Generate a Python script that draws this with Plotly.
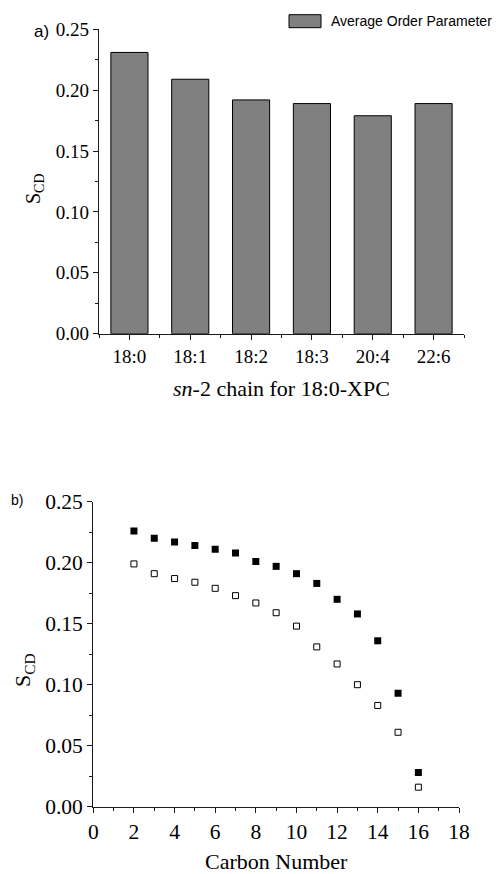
import plotly.graph_objects as go

# Panel a: average order parameter per sn-2 chain
chains = ["18:0", "18:1", "18:2", "18:3", "20:4", "22:6"]
avg_order = [0.231, 0.209, 0.192, 0.189, 0.179, 0.189]

# Panel b: order parameter profile along the chain
carbon = [2, 3, 4, 5, 6, 7, 8, 9, 10, 11, 12, 13, 14, 15, 16]
scd_filled = [0.226, 0.220, 0.217, 0.214, 0.211, 0.208, 0.201, 0.197,
              0.191, 0.183, 0.170, 0.158, 0.136, 0.093, 0.028]
scd_open = [0.199, 0.191, 0.187, 0.184, 0.179, 0.173, 0.167, 0.159,
            0.148, 0.131, 0.117, 0.100, 0.083, 0.061, 0.016]

W, H = 496, 874
SERIF = "Liberation Serif"
SANS = "Liberation Sans"
AX = "#1a1a1a"


def px(x0, x1):
    return [x0 / W, x1 / W]


def py(top, bottom):
    return [1 - bottom / H, 1 - top / H]


fig = go.Figure()

fig.add_trace(go.Bar(
    x=list(range(len(chains))), y=avg_order, width=0.61,
    marker=dict(color="#808080", line=dict(color="#000000", width=1)),
    xaxis="x", yaxis="y", showlegend=False,
))

fig.add_trace(go.Scatter(
    x=carbon, y=scd_filled, mode="markers",
    marker=dict(symbol="square", size=7, color="#000000"),
    xaxis="x2", yaxis="y2", showlegend=False,
))
fig.add_trace(go.Scatter(
    x=carbon, y=scd_open, mode="markers",
    marker=dict(symbol="square-open", size=6, color="#000000",
                line=dict(width=1)),
    xaxis="x2", yaxis="y2", showlegend=False,
))

axis_common = dict(
    showline=True, linecolor=AX, linewidth=1.3, mirror=False,
    showgrid=False, zeroline=False, automargin=False,
    ticks="outside", ticklen=5, tickwidth=1.2, tickcolor=AX,
)

fig.update_layout(
    width=W, height=H, autosize=False,
    margin=dict(l=0, r=0, t=0, b=0, pad=0, autoexpand=False),
    paper_bgcolor="white", plot_bgcolor="white",
    xaxis=dict(
        **axis_common, domain=px(99, 464), anchor="y",
        range=[-0.5, 5.5], tickmode="array",
        tickvals=list(range(len(chains))), ticktext=chains,
        tickfont=dict(family=SERIF, size=19, color="#000"),
        minor=dict(ticks="outside", ticklen=3, tickcolor=AX, tickwidth=1.2,
                   tick0=0.5, dtick=1),
    ),
    yaxis=dict(
        **axis_common, domain=py(29.3, 333.7), anchor="x",
        range=[0, 0.25], dtick=0.05, tick0=0, tickformat=".2f",
        tickfont=dict(family=SERIF, size=19, color="#000"),
        minor=dict(ticks="outside", ticklen=3, tickcolor=AX, tickwidth=1.2,
                   dtick=0.025),
    ),
    xaxis2=dict(
        **axis_common, domain=px(93.3, 459), anchor="y2",
        range=[0, 18], dtick=2, tick0=0,
        tickfont=dict(family=SERIF, size=21.5, color="#000"),
        minor=dict(ticks="outside", ticklen=3, tickcolor=AX, tickwidth=1.2,
                   dtick=1),
    ),
    yaxis2=dict(
        **axis_common, domain=py(501.7, 806.7), anchor="x2",
        range=[0, 0.25], dtick=0.05, tick0=0, tickformat=".2f",
        tickfont=dict(family=SERIF, size=21.5, color="#000"),
        minor=dict(ticks="outside", ticklen=3, tickcolor=AX, tickwidth=1.2,
                   dtick=0.025),
    ),
)

# Legend swatch and label for the bar series
fig.add_shape(type="rect", xref="paper", yref="paper",
              x0=289 / W, x1=321 / W, y0=1 - 27.7 / H, y1=1 - 14.7 / H,
              fillcolor="#808080", line=dict(color="#000", width=1))

annotations = [
    dict(text="Average Order Parameter", x=329 / W, y=1 - 21 / H,
         xanchor="left", yanchor="middle",
         font=dict(family=SANS, size=14, color="#000")),
    dict(text="a)", x=41.5 / W, y=1 - 31.5 / H,
         font=dict(family=SANS, size=17, color="#000")),
    dict(text="b)", x=17 / W, y=1 - 500.5 / H,
         font=dict(family=SANS, size=14, color="#000")),
    dict(text="<i>sn</i>-2 chain for 18:0-XPC", x=281.5 / W, y=1 - 388 / H,
         font=dict(family=SERIF, size=22, color="#000")),
    dict(text="Carbon Number", x=276 / W, y=1 - 861 / H,
         font=dict(family=SERIF, size=22, color="#000")),
    dict(text="S<sub>CD</sub>", x=34 / W, y=1 - 189 / H, textangle=-90,
         font=dict(family=SERIF, size=20, color="#000")),
    dict(text="S<sub>CD</sub>", x=24 / W, y=1 - 670 / H, textangle=-90,
         font=dict(family=SERIF, size=22, color="#000")),
]
for a in annotations:
    a.setdefault("xanchor", "center")
    a.setdefault("yanchor", "middle")
    fig.add_annotation(xref="paper", yref="paper", showarrow=False, **a)

fig.write_html("out.html")
